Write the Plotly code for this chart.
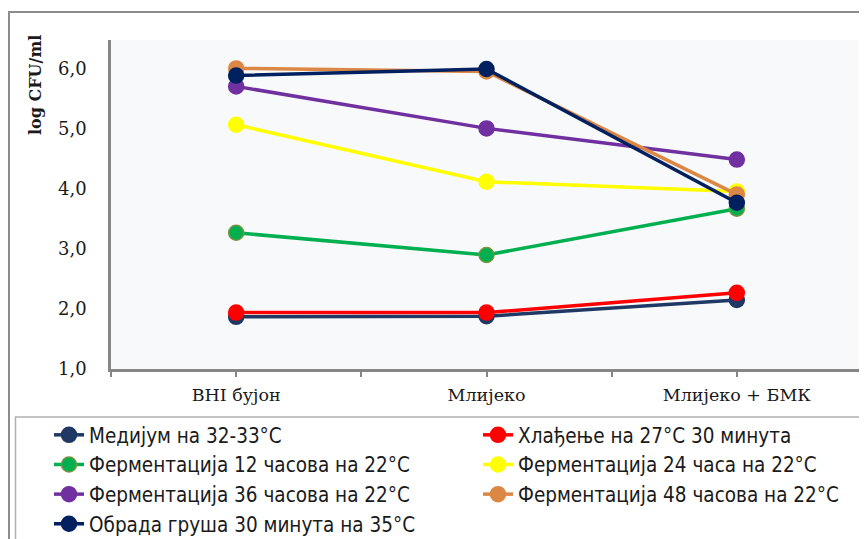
import plotly.graph_objects as go

categories = ["BHI бујон", "Млијеко", "Млијеко + БМК"]

series_names = [
    "Медијум на 32-33°C",
    "Хлађење на 27°C 30 минута",
    "Ферментација 12 часова на 22°C",
    "Ферментација 24 часа на 22°C",
    "Ферментација 36 часова на 22°C",
    "Ферментација 48 часова на 22°C",
    "Обрада груша 30 минута на 35°C",
]

medium = [1.87, 1.88, 2.15]
cooling = [1.94, 1.94, 2.27]
ferm12 = [3.27, 2.90, 3.67]
ferm24 = [5.07, 4.12, 3.96]
ferm36 = [5.71, 5.01, 4.49]
ferm48 = [6.01, 5.96, 3.91]
curd = [5.89, 6.00, 3.77]

series_values = [medium, cooling, ferm12, ferm24, ferm36, ferm48, curd]

line_colors = ["#1F3864", "#FF0000", "#00B050", "#FFFF00", "#7030A0", "#DD8744", "#002060"]
marker_lines = ["#1F3864", "#FF0000", "#77933C", "#FFFF00", "#7030A0", "#DD8744", "#002060"]

y_ticks = [1, 2, 3, 4, 5, 6]

W, H = 867, 539
OFF = 8  # default page body margin
# plot area in screen pixels
L, R, T, B = 111, 862, 40, 369
pw, ph = R - L, B - T

def px(x):
    return (x - L) / pw

def py(y):
    return (B - y) / ph

fig = go.Figure()
for name, vals, lc, mc in zip(series_names, series_values, line_colors, marker_lines):
    fig.add_trace(go.Scatter(
        x=[0, 1, 2], y=vals, name=name, mode="lines+markers",
        line=dict(color=lc, width=3.5),
        marker=dict(size=15, color=lc, line=dict(color=mc, width=1.5)),
    ))

fig.update_layout(
    width=W, height=H,
    margin=dict(l=L - OFF, r=W - (R - OFF), t=T - OFF, b=H - (B - OFF), pad=0, autoexpand=False),
    paper_bgcolor="white",
    plot_bgcolor="#F8F9FB",
    separators=", ",
    showlegend=True,
    legend=dict(
        orientation="h",
        x=px(49), y=py(415), xanchor="left", yanchor="top",
        entrywidth=384, entrywidthmode="pixels",
        font=dict(family="DejaVu Sans Condensed", size=20.5, color="#1a1a1a"),
        bgcolor="rgba(0,0,0,0)", borderwidth=0,
        tracegroupgap=0,
    ),
    xaxis=dict(
        range=[-0.5, 2.5],
        tickmode="array",
        tickvals=[-0.5, 0, 0.5, 1, 1.5, 2, 2.5],
        ticktext=["", categories[0], "", categories[1], "", categories[2], ""],
        ticks="outside", ticklen=5, tickwidth=2, tickcolor="#868686",
        showline=True, linecolor="#868686", linewidth=2.5,
        showgrid=False, zeroline=False,
        tickfont=dict(family="DejaVu Serif", size=17.5, color="#1a1a1a"),
        ticklabelstandoff=3,
        fixedrange=True,
    ),
    yaxis=dict(
        range=[1, 6.483],
        tickmode="array", tickvals=y_ticks,
        tickformat=".1f",
        ticks="", showline=True, linecolor="#868686", linewidth=2.5,
        showgrid=False, zeroline=False,
        tickfont=dict(family="DejaVu Serif", size=18, color="#1a1a1a"),
        ticklabelstandoff=18,
        fixedrange=True,
    ),
    shapes=[
        dict(type="rect", xref="paper", yref="paper",
             x0=px(9), x1=px(880), y0=py(560), y1=py(12),
             line=dict(color="#8C8C8C", width=2), fillcolor="rgba(0,0,0,0)", layer="below"),
        dict(type="rect", xref="paper", yref="paper",
             x0=px(15.5), x1=px(885), y0=py(560), y1=py(417),
             line=dict(color="#B0B0B0", width=1.5), fillcolor="rgba(0,0,0,0)", layer="below"),
    ],
    annotations=[
        dict(text="<b>log CFU/ml</b>", xref="paper", yref="paper",
             x=px(35), y=py(85), textangle=-90, showarrow=False,
             xanchor="center", yanchor="middle",
             font=dict(family="DejaVu Serif", size=16, color="#1a1a1a")),
    ],
)

fig.write_html("out.html")
